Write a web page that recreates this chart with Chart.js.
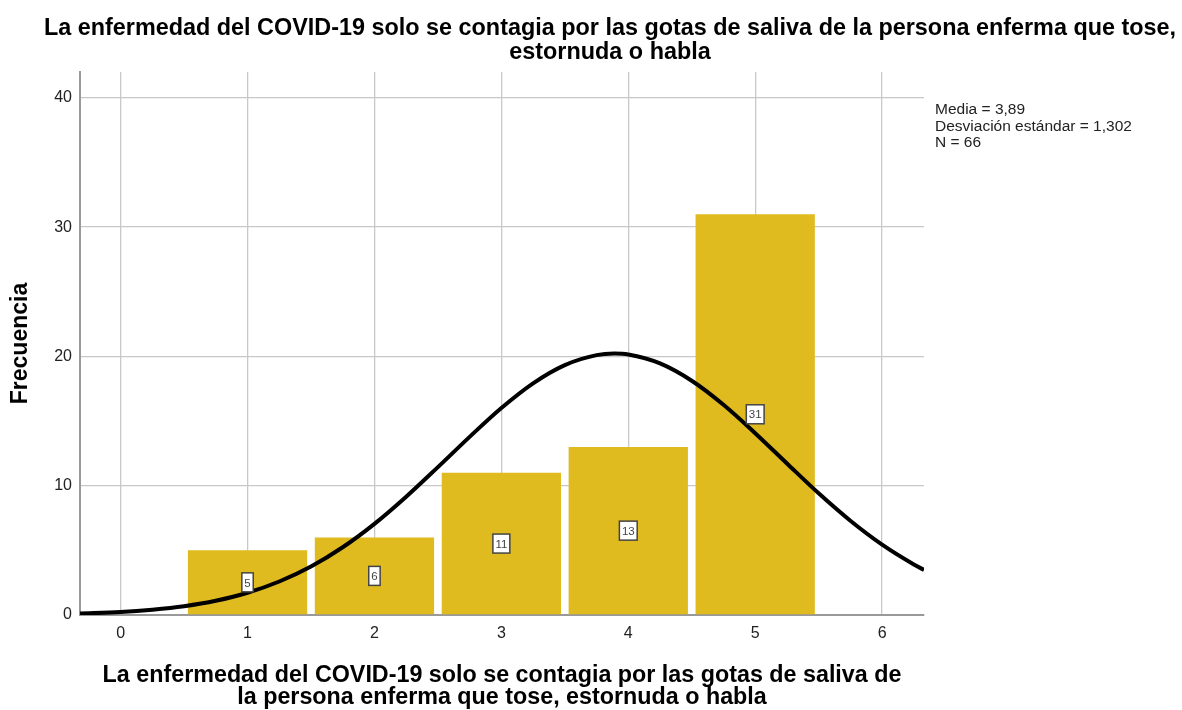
<!DOCTYPE html>
<html>
<head>
<meta charset="utf-8">
<script src="https://cdn.jsdelivr.net/npm/chart.js@4.4.1/dist/chart.umd.min.js"></script>
<style>
  html, body { margin: 0; padding: 0; background: #fff; }
  #wrap { width: 1182px; height: 710px; }
</style>
</head>
<body>
<div id="wrap"><canvas id="myChart" width="1182" height="710"></canvas></div>
<script>
// histogram bins (category value) and frequencies
const categories = [1, 2, 3, 4, 5];
const frequencies = [5, 6, 11, 13, 31];

// normal curve
const curveX = [-0.32, 0, 0.25, 0.5, 0.75, 1, 1.25, 1.5, 1.75, 2, 2.25, 2.5, 2.75, 3, 3.25, 3.5, 3.75, 3.89, 4, 4.25, 4.5, 4.75, 5, 5.25, 5.5, 5.75, 6, 6.25, 6.33];
const curveY = [0.11, 0.23, 0.41, 0.68, 1.10, 1.72, 2.59, 3.75, 5.24, 7.05, 9.15, 11.44, 13.78, 16.01, 17.92, 19.33, 20.10, 20.22, 20.15, 19.46, 18.12, 16.26, 14.06, 11.72, 9.41, 7.29, 5.44, 3.91, 3.49];

const xTicks = [0, 1, 2, 3, 4, 5, 6];
const yTicks = [0, 10, 20, 30, 40];

const chartTitle = ['La enfermedad del COVID-19 solo se contagia por las gotas de saliva de la persona enferma que tose,', 'estornuda o habla'];
const xTitle = ['La enfermedad del COVID-19 solo se contagia por las gotas de saliva de', 'la persona enferma que tose, estornuda o habla'];
const yTitle = 'Frecuencia';
const statsText = ['Media = 3,89', 'Desviación estándar = 1,302', 'N = 66'];

const FONT = '"Liberation Sans", Arial, sans-serif';

const ctx = document.getElementById('myChart').getContext('2d');

const extraText = {
    id: 'extraText',
    afterDraw(chart) {
        const c = chart.ctx;
        const area = chart.chartArea;
        c.save();
        // main title
        c.fillStyle = '#000';
        c.font = 'bold 23.4px ' + FONT;
        c.textAlign = 'center';
        c.textBaseline = 'middle';
        c.fillText(chartTitle[0], 610, 29);
        c.fillText(chartTitle[1], 610, 53);
        // stats box text
        c.font = '15.5px ' + FONT;
        c.textAlign = 'left';
        c.fillStyle = '#222';
        statsText.forEach((t, i) => c.fillText(t, area.right + 11, 110 + i * 16.5));
        c.restore();
    }
};

const barLabels = {
    id: 'barLabels',
    afterDatasetsDraw(chart) {
        const c = chart.ctx;
        const meta = chart.getDatasetMeta(0);
        c.save();
        c.font = '11.5px ' + FONT;
        c.textAlign = 'center';
        c.textBaseline = 'middle';
        meta.data.forEach((bar, i) => {
            const txt = String(frequencies[i]);
            const w = c.measureText(txt).width + 5;
            const h = 19;
            const cx = bar.x;
            const cy = (bar.y + bar.base) / 2;
            c.fillStyle = '#fff';
            c.fillRect(cx - w / 2, cy - h / 2, w, h);
            c.strokeStyle = '#444';
            c.lineWidth = 1.5;
            c.strokeRect(cx - w / 2, cy - h / 2, w, h);
            c.fillStyle = '#444';
            c.fillText(txt, cx, cy + 1);
        });
        c.restore();
    }
};

const HistData = {
    datasets: [
        {
            type: 'bar',
            label: 'Frecuencia',
            data: categories.map((x, i) => ({ x: x, y: frequencies[i] })),
            backgroundColor: '#e0bb1f',
            borderWidth: 0,
            categoryPercentage: 1,
            barPercentage: 0.94,
            order: 2,
        },
        {
            type: 'line',
            label: 'Normal',
            data: curveX.map((x, i) => ({ x: x, y: curveY[i] })),
            borderColor: '#000',
            borderWidth: 4,
            pointRadius: 0,
            fill: false,
            cubicInterpolationMode: 'monotone',
            order: 1,
        },
    ],
};

const chartData = {
    type: 'bar',
    data: HistData,
    plugins: [barLabels, extraText],
    options: {
        responsive: false,
        animation: false,
        layout: { padding: { top: 72, right: 258, left: 0, bottom: 0 } },
        plugins: {
            legend: { display: false },
            tooltip: { enabled: false },
        },
        scales: {
            x: {
                type: 'linear',
                offset: false,
                min: -0.32,
                max: 6.33,
                afterBuildTicks: (scale) => { scale.ticks = xTicks.map(v => ({ value: v })); },
                afterFit: (scale) => { scale.height = 95; },
                grid: { color: '#c8c8c8', lineWidth: 1.3, drawTicks: false, offset: false },
                border: { color: '#999', width: 2 },
                ticks: {
                    color: '#222',
                    font: { family: FONT, size: 16 },
                    padding: 9,
                },
                title: {
                    display: true,
                    text: xTitle,
                    color: '#000',
                    font: { family: FONT, size: 23.3, weight: 'bold', lineHeight: 0.97 },
                    padding: { top: 0, bottom: 1 },
                },
            },
            y: {
                min: 0,
                max: 42,
                afterBuildTicks: (scale) => { scale.ticks = yTicks.map(v => ({ value: v })); },
                afterFit: (scale) => { scale.width = 80; },
                grid: { color: '#c8c8c8', lineWidth: 1.3, drawTicks: false },
                border: { color: '#999', width: 2 },
                ticks: {
                    color: '#222',
                    font: { family: FONT, size: 16 },
                    padding: 8,
                },
                title: {
                    display: true,
                    text: yTitle,
                    color: '#000',
                    font: { family: FONT, size: 23, weight: 'bold' },
                    padding: { top: 7, bottom: 0 },
                },
            },
        },
    },
};

const HistChart = new Chart(ctx, chartData);
</script>
</body>
</html>
